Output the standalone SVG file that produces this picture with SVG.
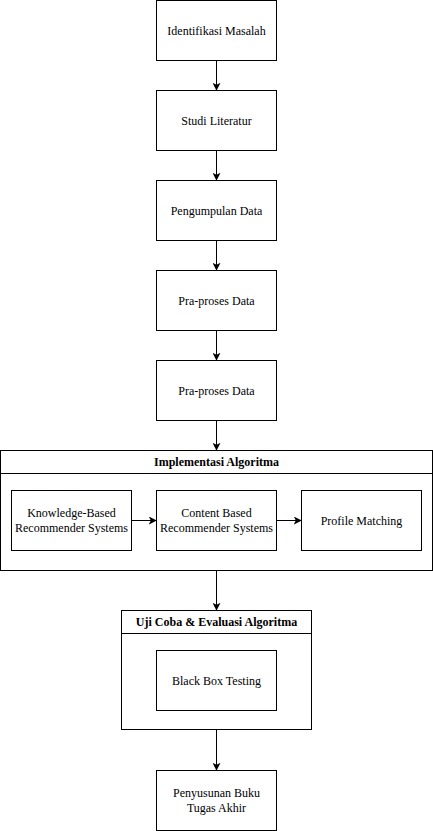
<svg xmlns="http://www.w3.org/2000/svg" width="433" height="831" viewBox="0 0 433 831">
<style>
.b{fill:#fff;stroke:#000;stroke-width:1}
.t{font-family:'Liberation Serif',serif;font-size:12px;fill:#000;text-anchor:middle;dominant-baseline:central}
.h{font-weight:bold}
.c{stroke:#000;stroke-width:1;fill:none;marker-end:url(#a)}
</style>
<defs>
<marker id="a" viewBox="0 0 10 10" refX="9" refY="5" markerWidth="8" markerHeight="8" markerUnits="userSpaceOnUse" orient="auto">
<path d="M0,0 L10,5 L0,10 L2.5,5 Z" fill="#000"/>
</marker>
</defs>
<rect width="433" height="831" fill="#fff"/>
<g id="n1"><rect class="b" x="156.5" y="0.5" width="120" height="60"/><text class="t" x="216.5" y="30.5">Identifikasi Masalah</text></g>
<g id="n2"><rect class="b" x="156.5" y="90.5" width="120" height="60"/><text class="t" x="216.5" y="120.5">Studi Literatur</text></g>
<g id="n3"><rect class="b" x="156.5" y="180.5" width="120" height="60"/><text class="t" x="216.5" y="210.5">Pengumpulan Data</text></g>
<g id="n4"><rect class="b" x="156.5" y="270.5" width="120" height="60"/><text class="t" x="216.5" y="300.5">Pra-proses Data</text></g>
<g id="n5"><rect class="b" x="156.5" y="360.5" width="120" height="60"/><text class="t" x="216.5" y="390.5">Pra-proses Data</text></g>
<g id="g1">
<rect class="b" x="0.5" y="450.5" width="432" height="120"/>
<line x1="0.5" y1="473.5" x2="432.5" y2="473.5" stroke="#000"/>
<text class="t h" x="216.5" y="462">Implementasi Algoritma</text>
</g>
<g id="n6"><rect class="b" x="11.5" y="490.5" width="120" height="60"/><text class="t" x="71.5" y="513">Knowledge-Based</text><text class="t" x="71.5" y="528">Recommender Systems</text></g>
<g id="n7"><rect class="b" x="156.5" y="490.5" width="120" height="60"/><text class="t" x="216.5" y="513">Content Based</text><text class="t" x="216.5" y="528">Recommender Systems</text></g>
<g id="n8"><rect class="b" x="301.5" y="490.5" width="120" height="60"/><text class="t" x="361.5" y="520.5">Profile Matching</text></g>
<g id="g2">
<rect class="b" x="121.5" y="610.5" width="190" height="119"/>
<line x1="121.5" y1="633.5" x2="311.5" y2="633.5" stroke="#000"/>
<text class="t h" x="216.5" y="622">Uji Coba &amp; Evaluasi Algoritma</text>
</g>
<g id="n9"><rect class="b" x="156.5" y="650.5" width="120" height="60"/><text class="t" x="216.5" y="680.5">Black Box Testing</text></g>
<g id="n10"><rect class="b" x="156.5" y="770.5" width="120" height="60"/><text class="t" x="216.5" y="793">Penyusunan Buku</text><text class="t" x="216.5" y="808">Tugas Akhir</text></g>
<g id="connectors">
<line class="c" x1="216.5" y1="60.5" x2="216.5" y2="90"/>
<line class="c" x1="216.5" y1="150.5" x2="216.5" y2="180"/>
<line class="c" x1="216.5" y1="240.5" x2="216.5" y2="270"/>
<line class="c" x1="216.5" y1="330.5" x2="216.5" y2="360"/>
<line class="c" x1="216.5" y1="420.5" x2="216.5" y2="450"/>
<line class="c" x1="131.5" y1="520.5" x2="156" y2="520.5"/>
<line class="c" x1="276.5" y1="520.5" x2="301" y2="520.5"/>
<line class="c" x1="216.5" y1="570.5" x2="216.5" y2="610"/>
<line class="c" x1="216.5" y1="729.5" x2="216.5" y2="770"/>
</g>
</svg>
